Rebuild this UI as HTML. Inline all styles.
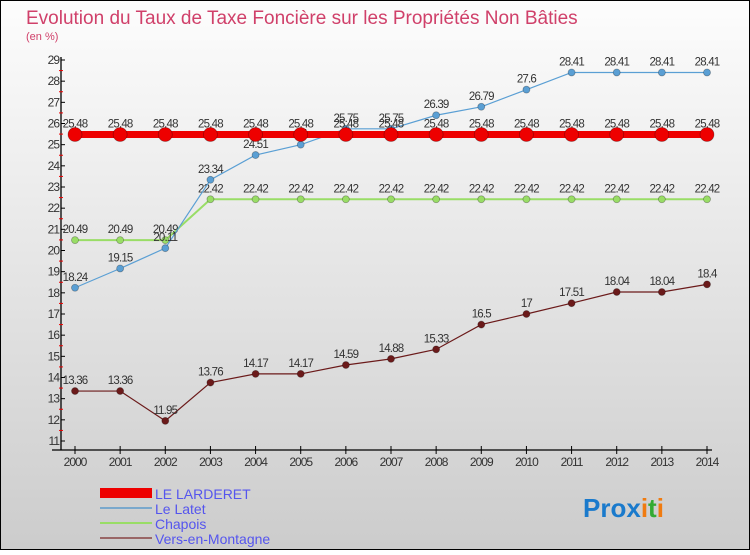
<!DOCTYPE html>
<html><head><meta charset="utf-8"><style>
body{margin:0;width:750px;height:550px;overflow:hidden;font-family:"Liberation Sans",sans-serif}
</style></head><body>
<svg id="c" width="750" height="550" xmlns="http://www.w3.org/2000/svg">
<defs><linearGradient id="bg" x1="0" y1="0" x2="0" y2="1"><stop offset="0" stop-color="#fdfdfd"/><stop offset="1" stop-color="#cccccc"/></linearGradient></defs>
<rect x="0.5" y="0.5" width="749" height="549" fill="url(#bg)" stroke="#000"/>
<text x="26" y="24" font-size="19" fill="#d0406a">Evolution du Taux de Taxe Foncière sur les Propriétés Non Bâties</text>
<text x="26" y="40" font-size="11" fill="#d0406a">(en %)</text>
<g id="axes"></g><g id="series"></g>
<g>
<rect x="100" y="488" width="52" height="10" fill="#e00"/>
<line x1="100" y1="508" x2="152" y2="508" stroke="#7aa8cc" stroke-width="2"/>
<line x1="100" y1="523" x2="152" y2="523" stroke="#99dd66" stroke-width="2"/>
<line x1="100" y1="538" x2="152" y2="538" stroke="#996666" stroke-width="2"/>
<g font-size="14" fill="#5555ee">
<text x="155" y="499">LE LARDERET</text>
<text x="155" y="514">Le Latet</text>
<text x="155" y="529">Chapois</text>
<text x="155" y="544">Vers-en-Montagne</text>
</g></g>
<text x="583" y="517" font-size="26" font-weight="bold"><tspan fill="#1a7acc">Pro</tspan><tspan fill="#1a7acc">x</tspan><tspan fill="#f07b10">i</tspan><tspan fill="#33aa33">t</tspan><tspan fill="#f07b10">i</tspan></text>
</svg>
<script>
const years=[2000,2001,2002,2003,2004,2005,2006,2007,2008,2009,2010,2011,2012,2013,2014];
const yTicks=[11,12,13,14,15,16,17,18,19,20,21,22,23,24,25,26,27,28,29];
const larderet=[25.48,25.48,25.48,25.48,25.48,25.48,25.48,25.48,25.48,25.48,25.48,25.48,25.48,25.48,25.48];
const latet=[18.24,19.15,20.11,23.34,24.51,25,25.75,25.75,26.39,26.79,27.6,28.41,28.41,28.41,28.41];
const chapois=[20.49,20.49,20.49,22.42,22.42,22.42,22.42,22.42,22.42,22.42,22.42,22.42,22.42,22.42,22.42];
const vers=[13.36,13.36,11.95,13.76,14.17,14.17,14.59,14.88,15.33,16.5,17,17.51,18.04,18.04,18.4];
const NS="http://www.w3.org/2000/svg";
const X=i=>75+i*(707-75)/(years.length-1);
const Y=v=>441-(v-11)*(441-60)/18;
function mk(t,a,p){const e=document.createElementNS(NS,t);for(const k in a)e.setAttribute(k,a[k]);p.appendChild(e);return e;}
const ax=document.getElementById('axes');
let l=mk('line',{x1:61,y1:57,x2:61,y2:450,stroke:'#000','stroke-width':1.3},ax);


l=mk('line',{x1:52,y1:450,x2:712,y2:450,stroke:'#000','stroke-width':1.3},ax);


yTicks.forEach(v=>{
 mk('line',{x1:61,y1:Y(v),x2:65,y2:Y(v),stroke:'#000'},ax);
 if(v<29) mk('line',{x1:59,y1:Y(v+0.5),x2:63,y2:Y(v+0.5),stroke:'#e00'},ax);
 const t=mk('text',{x:59,y:Y(v)+4,'text-anchor':'end','font-size':12,fill:'#333','letter-spacing':'-1'},ax);
 t.textContent=v;
 
 
});
years.forEach((yr,i)=>{
 mk('line',{x1:X(i),y1:446,x2:X(i),y2:454,stroke:'#000'},ax);
 const t=mk('text',{x:X(i),y:466,'text-anchor':'middle','font-size':12,fill:'#333','letter-spacing':'-1'},ax);
 t.textContent=yr;
 
 
});
const sg=document.getElementById('series');
function series(vals,color,w,r,name){
 const g=mk('g',{},sg);
 
 
 const pl=mk('polyline',{points:vals.map((v,i)=>X(i)+','+Y(v)).join(' '),fill:'none',stroke:color,'stroke-width':w},g);
 
 
 vals.forEach((v,i)=>{
  const c=mk('circle',{cx:X(i),cy:Y(v),r:r,fill:color,stroke:'rgba(0,0,0,0.3)','stroke-width':0.8},g);
  
  
  const t=mk('text',{x:X(i),y:Y(v)-7,'text-anchor':'middle','font-size':11.5,fill:'#333','letter-spacing':'-0.8'},g);
  t.textContent=v;
  
  
 });
}
series(vers,'#6b1a1a',1.2,3.5,'vers-en-montagne');
series(chapois,'#99dd66',2,3.5,'chapois');
series(latet,'#5a9fd4',1.2,3.5,'le-latet');
series(larderet,'#ee0000',7,7,'le-larderet');
</script>
</body></html>
